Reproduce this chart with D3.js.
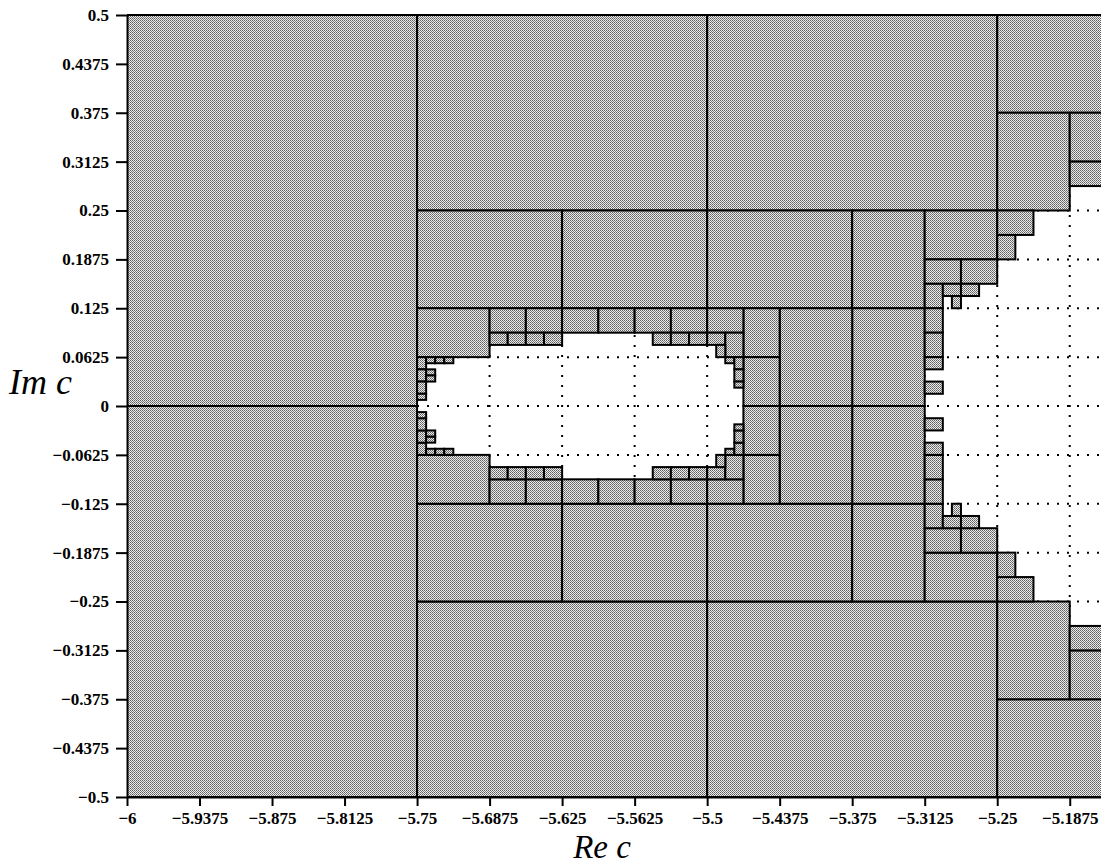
<!DOCTYPE html>
<html>
<head>
<meta charset="utf-8">
<script src="https://cdn.jsdelivr.net/npm/d3@7"></script>
<style>
  body { margin: 0; background: #fff; }
  svg { display: block; }
  .title { font-family: "Liberation Serif", serif; font-style: italic; }
</style>
</head>
<body>
<svg id="chart"></svg>
<script>
const xTicks = [-6, -5.9375, -5.875, -5.8125, -5.75, -5.6875, -5.625, -5.5625, -5.5, -5.4375, -5.375, -5.3125, -5.25, -5.1875]
const xTickLabels = ["−6", "−5.9375", "−5.875", "−5.8125", "−5.75", "−5.6875", "−5.625", "−5.5625", "−5.5", "−5.4375", "−5.375", "−5.3125", "−5.25", "−5.1875"]
const yTicks = [-0.5, -0.4375, -0.375, -0.3125, -0.25, -0.1875, -0.125, -0.0625, 0, 0.0625, 0.125, 0.1875, 0.25, 0.3125, 0.375, 0.4375, 0.5]
const yTickLabels = ["−0.5", "−0.4375", "−0.375", "−0.3125", "−0.25", "−0.1875", "−0.125", "−0.0625", "0", "0.0625", "0.125", "0.1875", "0.25", "0.3125", "0.375", "0.4375", "0.5"]

// boxes [re0, re1, im0, im1], upper half plane
const boxesUpper = [
  [-6, -5.75, 0, 0.5],
  [-5.75, -5.5, 0.25, 0.5],
  [-5.5, -5.25, 0.25, 0.5],
  [-5.25, -5.125, 0.375, 0.5],
  [-5.25, -5.1875, 0.25, 0.375],
  [-5.1875, -5.125, 0.3125, 0.375],
  [-5.1875, -5.125, 0.28125, 0.3125],
  [-5.75, -5.625, 0.125, 0.25],
  [-5.625, -5.5, 0.125, 0.25],
  [-5.5, -5.375, 0.125, 0.25],
  [-5.375, -5.3125, 0.125, 0.25],
  [-5.3125, -5.25, 0.1875, 0.25],
  [-5.25, -5.21875, 0.21875, 0.25],
  [-5.25, -5.234375, 0.1875, 0.21875],
  [-5.3125, -5.28125, 0.15625, 0.1875],
  [-5.28125, -5.25, 0.15625, 0.1875],
  [-5.3125, -5.296875, 0.125, 0.15625],
  [-5.296875, -5.28125, 0.140625, 0.15625],
  [-5.28125, -5.265625, 0.140625, 0.15625],
  [-5.2890625, -5.28125, 0.125, 0.140625],
  [-5.375, -5.3125, 0, 0.125],
  [-5.3125, -5.296875, 0.09375, 0.125],
  [-5.3125, -5.296875, 0.0625, 0.09375],
  [-5.3125, -5.296875, 0.046875, 0.0625],
  [-5.3125, -5.296875, 0.015625, 0.03125],
  [-5.4375, -5.375, 0, 0.125],
  [-5.46875, -5.4375, 0.0625, 0.125],
  [-5.46875, -5.4375, 0, 0.0625],
  [-5.75, -5.6875, 0.0625, 0.125],
  [-5.6875, -5.65625, 0.09375, 0.125],
  [-5.65625, -5.625, 0.09375, 0.125],
  [-5.625, -5.59375, 0.09375, 0.125],
  [-5.59375, -5.5625, 0.09375, 0.125],
  [-5.5625, -5.53125, 0.09375, 0.125],
  [-5.53125, -5.5, 0.09375, 0.125],
  [-5.5, -5.46875, 0.09375, 0.125],
  [-5.6875, -5.671875, 0.078125, 0.09375],
  [-5.671875, -5.65625, 0.078125, 0.09375],
  [-5.65625, -5.640625, 0.078125, 0.09375],
  [-5.640625, -5.625, 0.078125, 0.09375],
  [-5.546875, -5.53125, 0.078125, 0.09375],
  [-5.53125, -5.515625, 0.078125, 0.09375],
  [-5.515625, -5.5, 0.078125, 0.09375],
  [-5.5, -5.484375, 0.078125, 0.09375],
  [-5.484375, -5.46875, 0.0625, 0.09375],
  [-5.4921875, -5.484375, 0.0625, 0.078125],
  [-5.484375, -5.4765625, 0.0546875, 0.0625],
  [-5.4765625, -5.46875, 0.046875, 0.0625],
  [-5.4765625, -5.46875, 0.03125, 0.046875],
  [-5.4765625, -5.46875, 0.0234375, 0.03125],
  [-5.75, -5.7421875, 0.046875, 0.0625],
  [-5.7421875, -5.734375, 0.0546875, 0.0625],
  [-5.734375, -5.7265625, 0.0546875, 0.0625],
  [-5.7265625, -5.71875, 0.0546875, 0.0625],
  [-5.75, -5.7421875, 0.03125, 0.046875],
  [-5.7421875, -5.734375, 0.0390625, 0.046875],
  [-5.7421875, -5.734375, 0.03125, 0.0390625],
  [-5.75, -5.7421875, 0.015625, 0.03125],
  [-5.75, -5.7421875, 0.0078125, 0.015625],
]

// lower half plane
const boxesLower = [
  [-6, -5.75, -0.5, 0],
  [-5.75, -5.5, -0.5, -0.25],
  [-5.5, -5.25, -0.5, -0.25],
  [-5.25, -5.125, -0.5, -0.375],
  [-5.25, -5.1875, -0.375, -0.25],
  [-5.1875, -5.125, -0.375, -0.3125],
  [-5.1875, -5.125, -0.3125, -0.28125],
  [-5.75, -5.625, -0.25, -0.125],
  [-5.625, -5.5, -0.25, -0.125],
  [-5.5, -5.375, -0.25, -0.125],
  [-5.375, -5.3125, -0.25, -0.125],
  [-5.3125, -5.25, -0.25, -0.1875],
  [-5.25, -5.21875, -0.25, -0.21875],
  [-5.25, -5.234375, -0.21875, -0.1875],
  [-5.3125, -5.28125, -0.1875, -0.15625],
  [-5.28125, -5.25, -0.1875, -0.15625],
  [-5.3125, -5.296875, -0.15625, -0.125],
  [-5.296875, -5.28125, -0.15625, -0.140625],
  [-5.28125, -5.265625, -0.15625, -0.140625],
  [-5.2890625, -5.28125, -0.140625, -0.125],
  [-5.375, -5.3125, -0.125, 0],
  [-5.3125, -5.296875, -0.125, -0.09375],
  [-5.3125, -5.296875, -0.09375, -0.0625],
  [-5.3125, -5.296875, -0.0625, -0.046875],
  [-5.3125, -5.296875, -0.03125, -0.015625],
  [-5.4375, -5.375, -0.125, 0],
  [-5.46875, -5.4375, -0.125, -0.0625],
  [-5.46875, -5.4375, -0.0625, 0],
  [-5.75, -5.6875, -0.125, -0.0625],
  [-5.6875, -5.65625, -0.125, -0.09375],
  [-5.65625, -5.625, -0.125, -0.09375],
  [-5.625, -5.59375, -0.125, -0.09375],
  [-5.59375, -5.5625, -0.125, -0.09375],
  [-5.5625, -5.53125, -0.125, -0.09375],
  [-5.53125, -5.5, -0.125, -0.09375],
  [-5.5, -5.46875, -0.125, -0.09375],
  [-5.6875, -5.671875, -0.09375, -0.078125],
  [-5.671875, -5.65625, -0.09375, -0.078125],
  [-5.65625, -5.640625, -0.09375, -0.078125],
  [-5.640625, -5.625, -0.09375, -0.078125],
  [-5.546875, -5.53125, -0.09375, -0.078125],
  [-5.53125, -5.515625, -0.09375, -0.078125],
  [-5.515625, -5.5, -0.09375, -0.078125],
  [-5.5, -5.484375, -0.09375, -0.078125],
  [-5.484375, -5.46875, -0.09375, -0.0625],
  [-5.4921875, -5.484375, -0.078125, -0.0625],
  [-5.484375, -5.4765625, -0.0625, -0.0546875],
  [-5.4765625, -5.46875, -0.0625, -0.046875],
  [-5.4765625, -5.46875, -0.046875, -0.03125],
  [-5.4765625, -5.46875, -0.03125, -0.0234375],
  [-5.75, -5.7421875, -0.0625, -0.046875],
  [-5.7421875, -5.734375, -0.0625, -0.0546875],
  [-5.734375, -5.7265625, -0.0625, -0.0546875],
  [-5.7265625, -5.71875, -0.0625, -0.0546875],
  [-5.75, -5.7421875, -0.046875, -0.03125],
  [-5.7421875, -5.734375, -0.046875, -0.0390625],
  [-5.7421875, -5.734375, -0.0390625, -0.03125],
  [-5.75, -5.7421875, -0.03125, -0.015625],
  [-5.75, -5.7421875, -0.015625, -0.0078125],
]

const width = 1101
const height = 866
const marginLeft = 127
const marginTop = 15
const plotRight = 1106
const plotBottom = 797

const svg = d3.select("#chart").attr("width", width).attr("height", height)

const x = d3.scaleLinear().domain([-6, -5.15625]).range([marginLeft, plotRight])
const y = d3.scaleLinear().domain([-0.5, 0.5]).range([plotBottom, marginTop])

// stipple fill like the printed halftone
const defs = svg.append("defs")
const pat = defs.append("pattern")
  .attr("id", "stipple")
  .attr("patternUnits", "userSpaceOnUse")
  .attr("width", 2)
  .attr("height", 2)
pat.append("rect").attr("width", 2).attr("height", 2).attr("fill", "#ececec")
pat.append("rect").attr("x", 0).attr("y", 0).attr("width", 1).attr("height", 1).attr("fill", "#5e5e5e")
pat.append("rect").attr("x", 1).attr("y", 1).attr("width", 1).attr("height", 1).attr("fill", "#7c7c7c")

defs.append("clipPath").attr("id", "plotclip")
  .append("rect")
  .attr("x", marginLeft).attr("y", marginTop)
  .attr("width", plotRight - marginLeft).attr("height", plotBottom - marginTop)

const plot = svg.append("g").attr("clip-path", "url(#plotclip)")

// dotted grid, only visible in the white cells
const grid = plot.append("g")
  .attr("stroke", "#000")
  .attr("stroke-width", 2)
  .attr("stroke-dasharray", "2,8")

grid.selectAll(".vgrid")
  .data(xTicks.slice(1))
  .enter()
  .append("line")
  .attr("class", "vgrid")
  .attr("x1", d => x(d)).attr("x2", d => x(d))
  .attr("y1", y(0.5)).attr("y2", y(-0.5))

grid.selectAll(".hgrid")
  .data(yTicks.slice(1, -1))
  .enter()
  .append("line")
  .attr("class", "hgrid")
  .attr("x1", x(-6)).attr("x2", plotRight)
  .attr("y1", d => y(d)).attr("y2", d => y(d))

// the boxes
plot.selectAll(".box")
  .data(boxesUpper.concat(boxesLower))
  .enter()
  .append("rect")
  .attr("class", "box")
  .attr("x", d => x(d[0]))
  .attr("y", d => y(d[3]))
  .attr("width", d => x(d[1]) - x(d[0]))
  .attr("height", d => y(d[2]) - y(d[3]))
  .attr("fill", "url(#stipple)")
  .attr("stroke", "#000")
  .attr("stroke-width", 2)

// top border
svg.append("line")
  .attr("x1", marginLeft).attr("x2", width)
  .attr("y1", y(0.5)).attr("y2", y(0.5))
  .attr("stroke", "#000").attr("stroke-width", 2)

// axes
const yAxis = svg.append("g")
  .attr("transform", `translate(${marginLeft},0)`)
  .call(d3.axisLeft(y).tickValues(yTicks).tickFormat((d, i) => yTickLabels[i]).tickSize(11).tickPadding(7).tickSizeOuter(0))

const xAxis = svg.append("g")
  .attr("transform", `translate(0,${plotBottom})`)
  .call(d3.axisBottom(x).tickValues(xTicks).tickFormat((d, i) => xTickLabels[i]).tickSize(9).tickPadding(6).tickSizeOuter(0))

svg.selectAll(".domain").attr("stroke-width", 2)
svg.selectAll(".tick line").attr("stroke-width", 2)
svg.selectAll(".tick text")
  .style("font-family", "'Liberation Serif', 'DejaVu Serif', serif")
  .style("font-weight", "bold")
  .style("font-size", "17px")

xAxis.select(".domain").attr("d", `M${marginLeft},0.5H${width}`)

// axis titles
svg.append("text")
  .attr("class", "title")
  .attr("x", 9)
  .attr("y", 394)
  .style("font-size", "36px")
  .text("Im c")

svg.append("text")
  .attr("class", "title")
  .attr("x", 602)
  .attr("y", 858)
  .attr("text-anchor", "middle")
  .style("font-size", "33px")
  .text("Re c")
</script>
</body>
</html>
